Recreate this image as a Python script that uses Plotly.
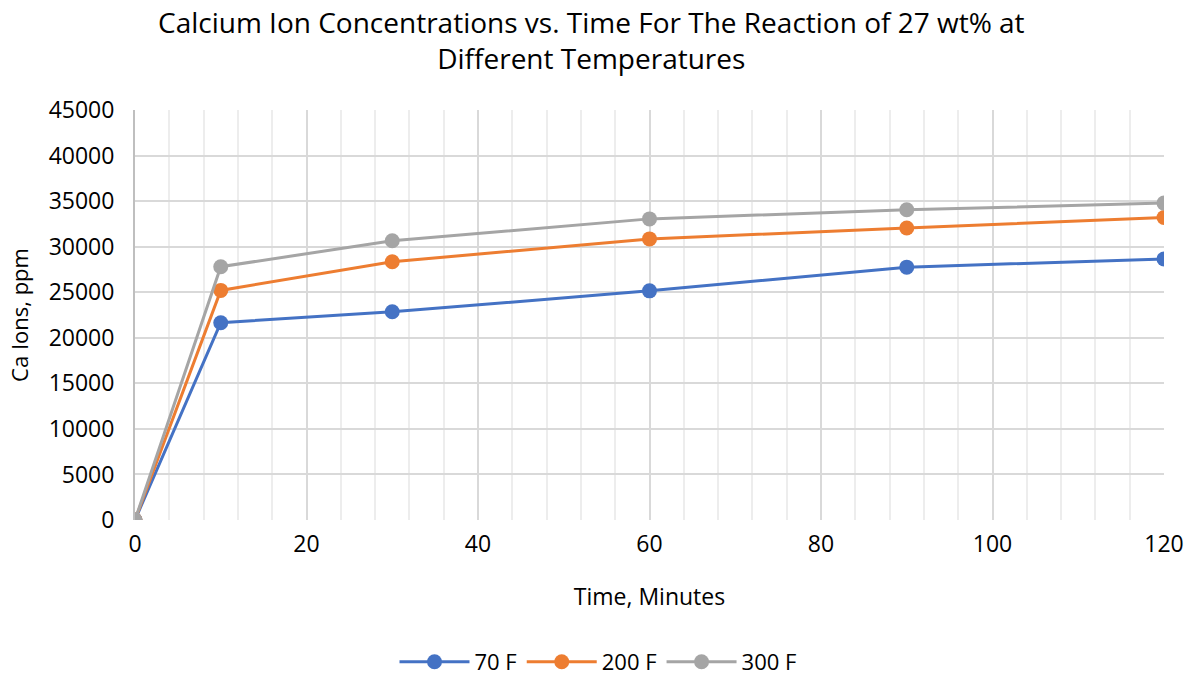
import plotly.graph_objects as go

time_min = [0, 10, 30, 60, 90, 120]
ca_70F = [0, 21650, 22850, 25150, 27750, 28650]
ca_200F = [0, 25200, 28350, 30850, 32050, 33200]
ca_300F = [0, 27800, 30650, 33050, 34050, 34780]
series_names = ["70 F", "200 F", "300 F"]
colors = ["#4472C4", "#ED7D31", "#A5A5A5"]

fig = go.Figure()
for name, ys, c in zip(series_names, [ca_70F, ca_200F, ca_300F], colors):
    fig.add_trace(go.Scatter(
        x=time_min, y=ys, name=name, mode="lines+markers",
        line=dict(color=c, width=3),
        marker=dict(color=c, size=15),
    ))

font_family = "Open Sans, Noto Sans, sans-serif"
fig.update_layout(
    width=1196, height=683,
    margin=dict(l=135, r=28, t=110, b=163),
    paper_bgcolor="white", plot_bgcolor="white",
    font=dict(family=font_family, color="#000000", size=22),
    showlegend=True,
    legend=dict(orientation="h", xref="container", x=0.5, xanchor="center", yref="container", y=0.0, yanchor="bottom",
                font=dict(size=22), itemwidth=70, tracegroupgap=0),
    annotations=[dict(
        text="Calcium Ion Concentrations vs. Time For The Reaction of 27 wt% at<br>Different Temperatures",
        xref="paper", yref="paper", x=(593 - 135) / 1033, y=1 + 70 / 410, xanchor="center", yanchor="middle",
        showarrow=False, font=dict(size=28, family=font_family, color="#000000"),
    )],
)
fig.update_xaxes(
    range=[0, 120], tickmode="array", tickvals=[0, 20, 40, 60, 80, 100, 120],
    showgrid=True, gridcolor="#D9D9D9", gridwidth=2,
    minor=dict(dtick=4, showgrid=True, gridcolor="#EDEDED", gridwidth=1.5),
    zeroline=False, showline=False, ticks="", ticklabelstandoff=8,
    title=dict(text="Time, Minutes", font=dict(size=23), standoff=30),
    tickfont=dict(size=23),
)
fig.update_yaxes(
    range=[0, 45000], dtick=5000, tickformat="d",
    showgrid=True, gridcolor="#D9D9D9", gridwidth=2,
    zeroline=False, showline=True, linecolor="#BFBFBF", linewidth=2, ticks="", ticklabelstandoff=14,
    title=dict(text="Ca Ions, ppm", font=dict(size=22), standoff=14),
    tickfont=dict(size=23),
)
fig.write_html("out.html")
